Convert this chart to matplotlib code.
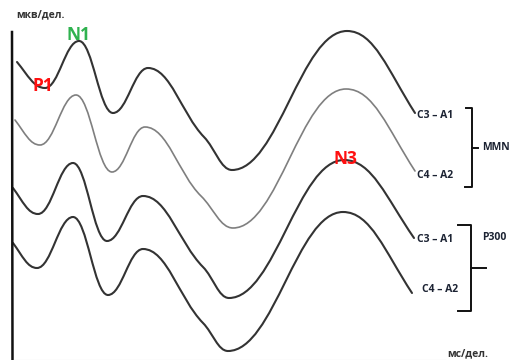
import matplotlib
matplotlib.use('Agg')
import matplotlib.pyplot as plt
from matplotlib.path import Path
from matplotlib.patches import PathPatch

# key points (peaks, troughs, shoulders) of each trace, in picture units
c3a1_mmn_x = [17, 45, 79, 113, 148, 204, 232, 347, 415]
c3a1_mmn_y = [62, 88, 41, 113, 68, 137, 170, 31, 113]
c4a2_mmn_x = [15, 40, 76, 112, 145, 201, 233, 346, 415]
c4a2_mmn_y = [120, 145, 95, 172, 127, 196, 228, 89, 171]
c3a1_p300_x = [13, 38, 73, 107, 143, 203, 229, 344, 414]
c3a1_p300_y = [188, 214, 163, 241, 196, 267, 298, 160, 238]
c4a2_p300_x = [13, 37, 73, 108, 143, 203, 228, 343, 412]
c4a2_p300_y = [243, 268, 217, 295, 249, 323, 351, 212, 293]

trace_labels = ['C3 – A1', 'C4 – A2', 'C3 – A1', 'C4 – A2']
group_labels = ['MMN', 'P300']


def slopes(xs, ys):
    m = []
    n = len(xs)
    for i in range(n):
        if i == 0:
            m.append(1.3 * (ys[1] - ys[0]) / (xs[1] - xs[0]))
        elif i == n - 1:
            m.append(1.3 * (ys[-1] - ys[-2]) / (xs[-1] - xs[-2]))
        elif (ys[i] - ys[i - 1]) * (ys[i + 1] - ys[i]) < 0:
            m.append(0.0)
        else:
            m.append(0.85 * (ys[i + 1] - ys[i - 1]) / (xs[i + 1] - xs[i - 1]))
    return m


def smooth_path(xs, ys, h=0.4):
    m = slopes(xs, ys)
    verts = [(xs[0], ys[0])]
    codes = [Path.MOVETO]
    for i in range(len(xs) - 1):
        dx = (xs[i + 1] - xs[i]) * h
        verts += [(xs[i] + dx, ys[i] + m[i] * dx),
                  (xs[i + 1] - dx, ys[i + 1] - m[i + 1] * dx),
                  (xs[i + 1], ys[i + 1])]
        codes += [Path.CURVE4] * 3
    return Path(verts, codes)


fig = plt.figure(figsize=(5.11, 3.6), dpi=100, facecolor='white')
ax = fig.add_axes([0, 0, 1, 1])
ax.set_xlim(0, 511)
ax.set_ylim(360, 0)
ax.axis('off')

traces = [(c3a1_mmn_x, c3a1_mmn_y, '#333333', 1.5),
          (c4a2_mmn_x, c4a2_mmn_y, '#7f7f7f', 1.2),
          (c3a1_p300_x, c3a1_p300_y, '#333333', 1.5),
          (c4a2_p300_x, c4a2_p300_y, '#333333', 1.5)]
for xs, ys, col, lw in traces:
    ax.add_patch(PathPatch(smooth_path(xs, ys), facecolor='none',
                           edgecolor=col, lw=lw, capstyle='round'))

# axes
ax.plot([12, 12.5], [32, 360], color='#111111', lw=1.8)
ax.plot([13, 445], [359.5, 359.5], color='#cccccc', lw=0.8)

font = ['Open Sans', 'DejaVu Sans']
ax.text(16, 15, 'мкв/дел.', fontsize=7.5, fontweight='bold', color='#333333',
        family=font, va='center', ha='left')
ax.text(447, 354, 'мс/дел.', fontsize=7.5, fontweight='bold', color='#333333',
        family=font, va='center', ha='left')

ax.text(79, 35, 'N1', fontsize=12.5, fontweight='bold', color='#2fb24f',
        family=font, va='center', ha='center')
ax.text(43, 86, 'P1', fontsize=12.5, fontweight='bold', color='#ff1010',
        family=font, va='center', ha='center')
ax.text(345, 159, 'N3', fontsize=12.5, fontweight='bold', color='#ff1010',
        family=font, va='center', ha='center')

label_pos = [(417, 116), (417, 175), (417, 239), (422, 290)]
for (lx, ly), lab in zip(label_pos, trace_labels):
    ax.text(lx, ly, lab, fontsize=7.5, fontweight='bold', color='#1c2333',
            family=font, va='center', ha='left')

# brackets
bk = '#111111'
ax.plot([466, 472, 472, 465], [108, 108, 187, 187], color=bk, lw=1.4)
ax.plot([472, 478], [148, 148], color=bk, lw=1.4)
ax.text(482, 148, group_labels[0], fontsize=7.5, fontweight='bold',
        color='#1c2333', family=font, va='center', ha='left')

ax.plot([458, 471, 471, 458], [225, 225, 311, 311], color=bk, lw=1.4)
ax.plot([471, 486], [268, 268], color=bk, lw=1.4)
ax.text(482, 238, group_labels[1], fontsize=7.5, fontweight='bold',
        color='#1c2333', family=font, va='center', ha='left')

plt.savefig('out.png', dpi=100, facecolor='white')
plt.close()
